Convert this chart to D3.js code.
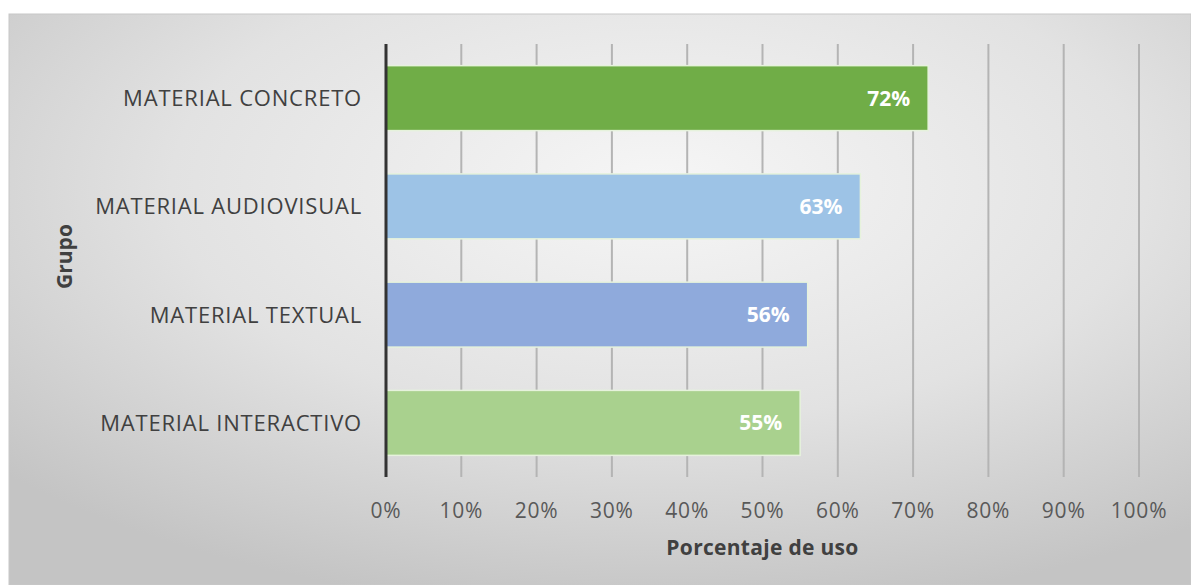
<!DOCTYPE html>
<meta charset="utf-8">
<style>
  body { margin: 0; background: #fff; }
  text { font-family: "Open Sans", sans-serif; }
</style>
<body>
<script src="https://d3js.org/d3.v7.min.js"></script>
<script>

// chart data
var categories = ["MATERIAL CONCRETO", "MATERIAL AUDIOVISUAL", "MATERIAL TEXTUAL", "MATERIAL INTERACTIVO"];
var values = [0.72, 0.63, 0.56, 0.55];
var barColors = ["#70ad47", "#9dc3e6", "#8faadc", "#a9d18e"];
var xTicks = [0, 0.1, 0.2, 0.3, 0.4, 0.5, 0.6, 0.7, 0.8, 0.9, 1.0];

var W = 1191, H = 585;
var margin = {top: 44, right: 52, bottom: 108, left: 386},
    width = W - margin.left - margin.right,
    height = H - margin.top - margin.bottom;

var svg = d3.select("body").append("svg")
    .attr("width", W)
    .attr("height", H);

// background panel with a soft radial gradient
var defs = svg.append("defs");
var grad = defs.append("radialGradient")
    .attr("id", "bg")
    .attr("cx", "55%").attr("cy", "30%").attr("r", "75%");
grad.append("stop").attr("offset", "0%").attr("stop-color", "#f6f6f6");
grad.append("stop").attr("offset", "55%").attr("stop-color", "#e2e2e2");
grad.append("stop").attr("offset", "100%").attr("stop-color", "#c4c4c4");

svg.append("rect")
    .attr("x", 9).attr("y", 14)
    .attr("width", W - 9).attr("height", H - 14)
    .attr("fill", "url(#bg)")
    .attr("stroke", "#c8c8c8");

var g = svg.append("g")
    .attr("transform", "translate(" + margin.left + "," + margin.top + ")");

var x = d3.scaleLinear().domain([0, 1]).range([0, width]);
var y = d3.scaleBand().domain(categories).range([0, height]).paddingInner(0.4).paddingOuter(0.2);

// vertical gridlines
g.selectAll(".grid")
    .data(xTicks.slice(1))
  .enter().append("line")
    .attr("x1", function(d) { return x(d); })
    .attr("x2", function(d) { return x(d); })
    .attr("y1", 0)
    .attr("y2", height)
    .attr("stroke", "#b4b4b4")
    .attr("stroke-width", 2);

// bars
g.selectAll(".bar")
    .data(values)
  .enter().append("rect")
    .attr("x", x(0))
    .attr("y", function(d, i) { return y(categories[i]); })
    .attr("width", function(d) { return x(d) - x(0); })
    .attr("height", y.bandwidth())
    .attr("fill", function(d, i) { return barColors[i]; })
    .attr("stroke", "#e6f2dc")
    .attr("stroke-width", 1.5);

// value labels inside end
g.selectAll(".val")
    .data(values)
  .enter().append("text")
    .attr("x", function(d) { return x(d) - 18; })
    .attr("y", function(d, i) { return y(categories[i]) + y.bandwidth() / 2; })
    .attr("dy", "0.36em")
    .attr("text-anchor", "end")
    .attr("fill", "#ffffff")
    .style("font-weight", "bold")
    .style("font-size", "21px")
    .text(function(d) { return d3.format(".0%")(d); });

// category axis line
g.append("line")
    .attr("x1", 0).attr("x2", 0)
    .attr("y1", 0).attr("y2", height)
    .attr("stroke", "#333")
    .attr("stroke-width", 3);

// category labels
g.selectAll(".cat")
    .data(categories)
  .enter().append("text")
    .attr("x", -24)
    .attr("y", function(d) { return y(d) + y.bandwidth() / 2; })
    .attr("dy", "0.36em")
    .attr("text-anchor", "end")
    .attr("fill", "#404040")
    .style("font-size", "22px")
    .style("letter-spacing", "0.8px")
    .text(function(d) { return d; });

// tick labels
g.selectAll(".tick-label")
    .data(xTicks)
  .enter().append("text")
    .attr("x", function(d) { return x(d); })
    .attr("y", height + 41)
    .attr("text-anchor", "middle")
    .attr("fill", "#595959")
    .style("font-size", "21px")
    .style("letter-spacing", "0.8px")
    .text(function(d) { return d3.format(".0%")(d); });

// axis titles
g.append("text")
    .attr("x", x(0.5))
    .attr("y", height + 78)
    .attr("text-anchor", "middle")
    .attr("fill", "#404040")
    .style("font-weight", "bold")
    .style("font-size", "21px")
    .style("letter-spacing", "0.3px")
    .text("Porcentaje de uso");

svg.append("text")
    .attr("transform", "translate(72," + (margin.top + height / 2 - 4) + ") rotate(-90)")
    .attr("text-anchor", "middle")
    .attr("fill", "#404040")
    .style("font-weight", "bold")
    .style("font-size", "21px")
    .text("Grupo");

</script>
